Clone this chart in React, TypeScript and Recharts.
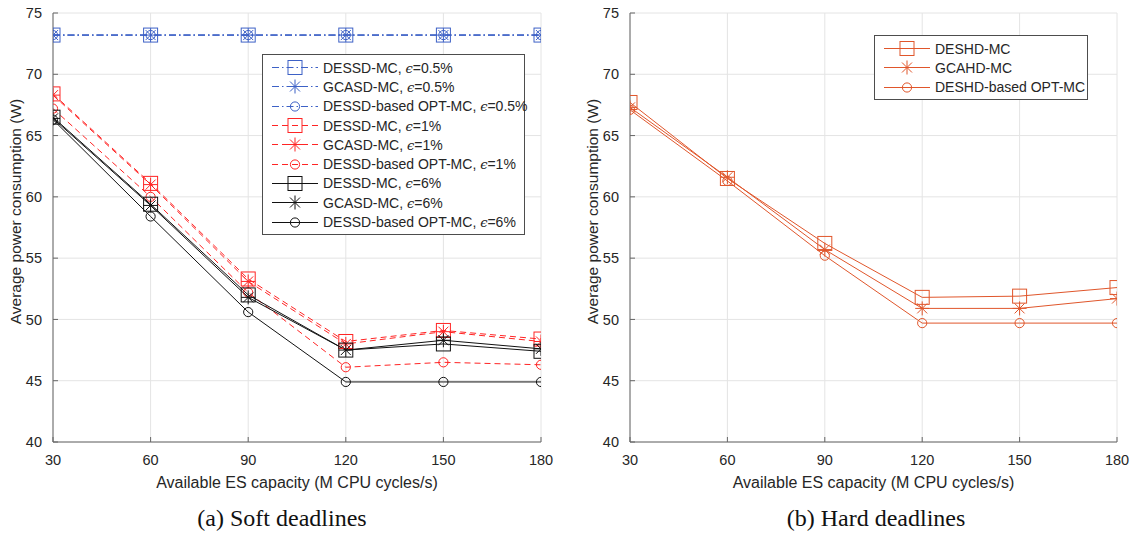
import React from 'react';
import { LineChart, Line, XAxis, YAxis, CartesianGrid, Legend } from 'recharts';

const capacity = [30, 60, 90, 120, 150, 180];
const xTicks = [30, 60, 90, 120, 150, 180];
const yTicks = [40, 45, 50, 55, 60, 65, 70, 75];

// (a) soft deadlines
const dessdEps05 = [73.2, 73.2, 73.2, 73.2, 73.2, 73.2];
const gcasdEps05 = [73.2, 73.2, 73.2, 73.2, 73.2, 73.2];
const optEps05 = [73.2, 73.2, 73.2, 73.2, 73.2, 73.2];
const dessdEps1 = [68.4, 61.1, 53.3, 48.2, 49.1, 48.4];
const gcasdEps1 = [68.3, 61.0, 53.1, 48.0, 49.0, 48.2];
const optEps1 = [67.2, 60.0, 52.2, 46.1, 46.5, 46.3];
const dessdEps6 = [66.5, 59.4, 52.0, 47.5, 48.0, 47.4];
const gcasdEps6 = [66.4, 59.3, 51.8, 47.5, 48.3, 47.6];
const optEps6 = [66.3, 58.4, 50.6, 44.9, 44.9, 44.9];

// (b) hard deadlines
const deshd = [67.7, 61.5, 56.2, 51.8, 51.9, 52.6];
const gcahd = [67.3, 61.6, 55.7, 50.9, 50.9, 51.7];
const deshdOpt = [67.1, 61.3, 55.2, 49.7, 49.7, 49.7];

const BLUE = '#3d61c6';
const RED = '#ff2424';
const BLACK = '#111111';
const ORANGE = '#e0562b';

const FONT = '"Liberation Sans", Arial, Helvetica, sans-serif';
const TEXT = '#262626';

type Shape = 'square' | 'star' | 'circle';
type Series = {
  key: string;
  name: string;
  eps?: string;
  values: number[];
  color: string;
  dash?: string;
  marker: Shape;
};

const DASHDOT = '7 3 1.5 3';
const DASHED = '6 4';

const softSeries: Series[] = [
  { key: 's1', name: 'DESSD-MC', eps: '0.5%', values: dessdEps05, color: BLUE, dash: DASHDOT, marker: 'square' },
  { key: 's2', name: 'GCASD-MC', eps: '0.5%', values: gcasdEps05, color: BLUE, dash: DASHDOT, marker: 'star' },
  { key: 's3', name: 'DESSD-based OPT-MC', eps: '0.5%', values: optEps05, color: BLUE, dash: DASHDOT, marker: 'circle' },
  { key: 's4', name: 'DESSD-MC', eps: '1%', values: dessdEps1, color: RED, dash: DASHED, marker: 'square' },
  { key: 's5', name: 'GCASD-MC', eps: '1%', values: gcasdEps1, color: RED, dash: DASHED, marker: 'star' },
  { key: 's6', name: 'DESSD-based OPT-MC', eps: '1%', values: optEps1, color: RED, dash: DASHED, marker: 'circle' },
  { key: 's7', name: 'DESSD-MC', eps: '6%', values: dessdEps6, color: BLACK, marker: 'square' },
  { key: 's8', name: 'GCASD-MC', eps: '6%', values: gcasdEps6, color: BLACK, marker: 'star' },
  { key: 's9', name: 'DESSD-based OPT-MC', eps: '6%', values: optEps6, color: BLACK, marker: 'circle' },
];

const hardSeries: Series[] = [
  { key: 'h1', name: 'DESHD-MC', values: deshd, color: ORANGE, marker: 'square' },
  { key: 'h2', name: 'GCAHD-MC', values: gcahd, color: ORANGE, marker: 'star' },
  { key: 'h3', name: 'DESHD-based OPT-MC', values: deshdOpt, color: ORANGE, marker: 'circle' },
];

function toRows(series: Series[]) {
  return capacity.map((c, i) => {
    const row: Record<string, number> = { c };
    series.forEach((s) => {
      row[s.key] = s.values[i];
    });
    return row;
  });
}

function Marker({ cx, cy, shape, color }: { cx: number; cy: number; shape: Shape; color: string }) {
  if (cx == null || cy == null) return null;
  if (shape === 'square') {
    return <rect x={cx - 7} y={cy - 7} width={14} height={14} fill="none" stroke={color} strokeWidth={1} />;
  }
  if (shape === 'circle') {
    return <circle cx={cx} cy={cy} r={4.6} fill="none" stroke={color} strokeWidth={1} />;
  }
  const a = 7;
  const d = 5;
  return (
    <path
      d={`M${cx - a},${cy}H${cx + a}M${cx},${cy - a}V${cy + a}M${cx - d},${cy - d}L${cx + d},${cy + d}M${cx - d},${cy + d}L${cx + d},${cy - d}`}
      fill="none"
      stroke={color}
      strokeWidth={1}
    />
  );
}

const noTick = () => <g />;

function LegendBox({ series, width }: { series: Series[]; width: number }) {
  return (
    <div
      style={{
        width,
        background: '#fff',
        border: '1px solid #4d4d4d',
        padding: '3px 0 2px 0',
        fontFamily: FONT,
        fontSize: 14,
        color: TEXT,
      }}
    >
      {series.map((s) => (
        <div key={s.key} style={{ display: 'flex', alignItems: 'center', height: 19.3 }}>
          <svg width={60} height={19} style={{ flex: 'none' }}>
            <line x1={9} x2={55} y1={9.5} y2={9.5} stroke={s.color} strokeDasharray={s.dash} />
            <Marker cx={32} cy={9.5} shape={s.marker} color={s.color} />
          </svg>
          <span style={{ whiteSpace: 'nowrap' }}>
            {s.name}
            {s.eps ? (
              <>
                {', '}
                <span style={{ fontStyle: 'italic', fontFamily: '"DejaVu Serif", serif', fontSize: 13 }}>ϵ</span>
                {'=' + s.eps}
              </>
            ) : null}
          </span>
        </div>
      ))}
    </div>
  );
}

function Panel({
  series,
  width,
  marginRight,
  legendLeft,
  legendTop,
  legendWidth,
}: {
  series: Series[];
  width: number;
  marginRight: number;
  legendLeft: number;
  legendTop: number;
  legendWidth: number;
}) {
  const data = toRows(series);
  const tickStyle = { fontFamily: FONT, fontSize: 14.5, fill: TEXT };
  return (
    <LineChart width={width} height={535} data={data} margin={{ top: 13, right: marginRight, bottom: 43, left: 0 }}>
      <CartesianGrid stroke="#e4e4e4" strokeWidth={1} />
      <XAxis
        dataKey="c"
        type="number"
        domain={[30, 180]}
        ticks={xTicks}
        allowDataOverflow
        height={50}
        stroke="#666"
        tickSize={-5}
        tickMargin={18}
        tick={tickStyle}
        label={{
          content: (p: any) => (
            <text
              x={p.viewBox.x + p.viewBox.width / 2}
              y={p.viewBox.y + 40}
              textAnchor="middle"
              dominantBaseline="central"
              fontFamily={FONT}
              fontSize={16}
              fill={TEXT}
            >
              Available ES capacity (M CPU cycles/s)
            </text>
          ),
        }}
      />
      <XAxis
        xAxisId="top"
        orientation="top"
        dataKey="c"
        type="number"
        domain={[30, 180]}
        ticks={xTicks}
        height={0}
        stroke="#666"
        tickSize={-5}
        tick={noTick}
      />
      <YAxis
        type="number"
        domain={[40, 75]}
        ticks={yTicks}
        allowDataOverflow
        width={53}
        stroke="#666"
        tickSize={-5}
        tickMargin={16}
        tick={tickStyle}
        label={{
          content: (p: any) => {
            const x = 15;
            const y = p.viewBox.y + p.viewBox.height / 2 - 16;
            return (
              <text
                x={x}
                y={y}
                transform={`rotate(-90 ${x} ${y})`}
                textAnchor="middle"
                dominantBaseline="central"
                fontFamily={FONT}
                fontSize={15.5}
                fill={TEXT}
              >
                Average power consumption (W)
              </text>
            );
          },
        }}
      />
      <YAxis
        yAxisId="right"
        orientation="right"
        type="number"
        domain={[40, 75]}
        ticks={yTicks}
        width={0}
        stroke="#666"
        tickSize={-5}
        tick={noTick}
      />
      <Legend
        layout="vertical"
        align="center"
        verticalAlign="middle"
        wrapperStyle={{ position: 'absolute', left: legendLeft, top: legendTop, width: 'auto' }}
        content={() => <LegendBox series={series} width={legendWidth} />}
      />
      {series.map((s) => (
        <Line
          key={s.key}
          dataKey={s.key}
          name={s.name}
          stroke={s.color}
          strokeWidth={1}
          strokeDasharray={s.dash}
          isAnimationActive={false}
          dot={(p: any) => <Marker key={`${s.key}-${p.index}`} cx={p.cx} cy={p.cy} shape={s.marker} color={s.color} />}
          activeDot={false}
        />
      ))}
    </LineChart>
  );
}

const captionStyle: React.CSSProperties = {
  position: 'absolute',
  top: 505,
  width: 400,
  textAlign: 'center',
  fontFamily: '"Liberation Serif", "Times New Roman", serif',
  fontSize: 24,
  color: '#111',
};

export default function App() {
  return (
    <div style={{ position: 'absolute', left: 0, top: 0, width: 1135, height: 535, background: '#fff' }}>
      <div style={{ position: 'absolute', left: 0, top: 0 }}>
        <Panel series={softSeries} width={560} marginRight={19} legendLeft={262} legendTop={54} legendWidth={261} />
      </div>
      <div style={{ position: 'absolute', left: 577, top: 0 }}>
        <Panel series={hardSeries} width={558} marginRight={18} legendLeft={297} legendTop={35} legendWidth={212} />
      </div>
      <div style={{ ...captionStyle, left: 82 }}>(a) Soft deadlines</div>
      <div style={{ ...captionStyle, left: 676 }}>(b) Hard deadlines</div>
    </div>
  );
}
